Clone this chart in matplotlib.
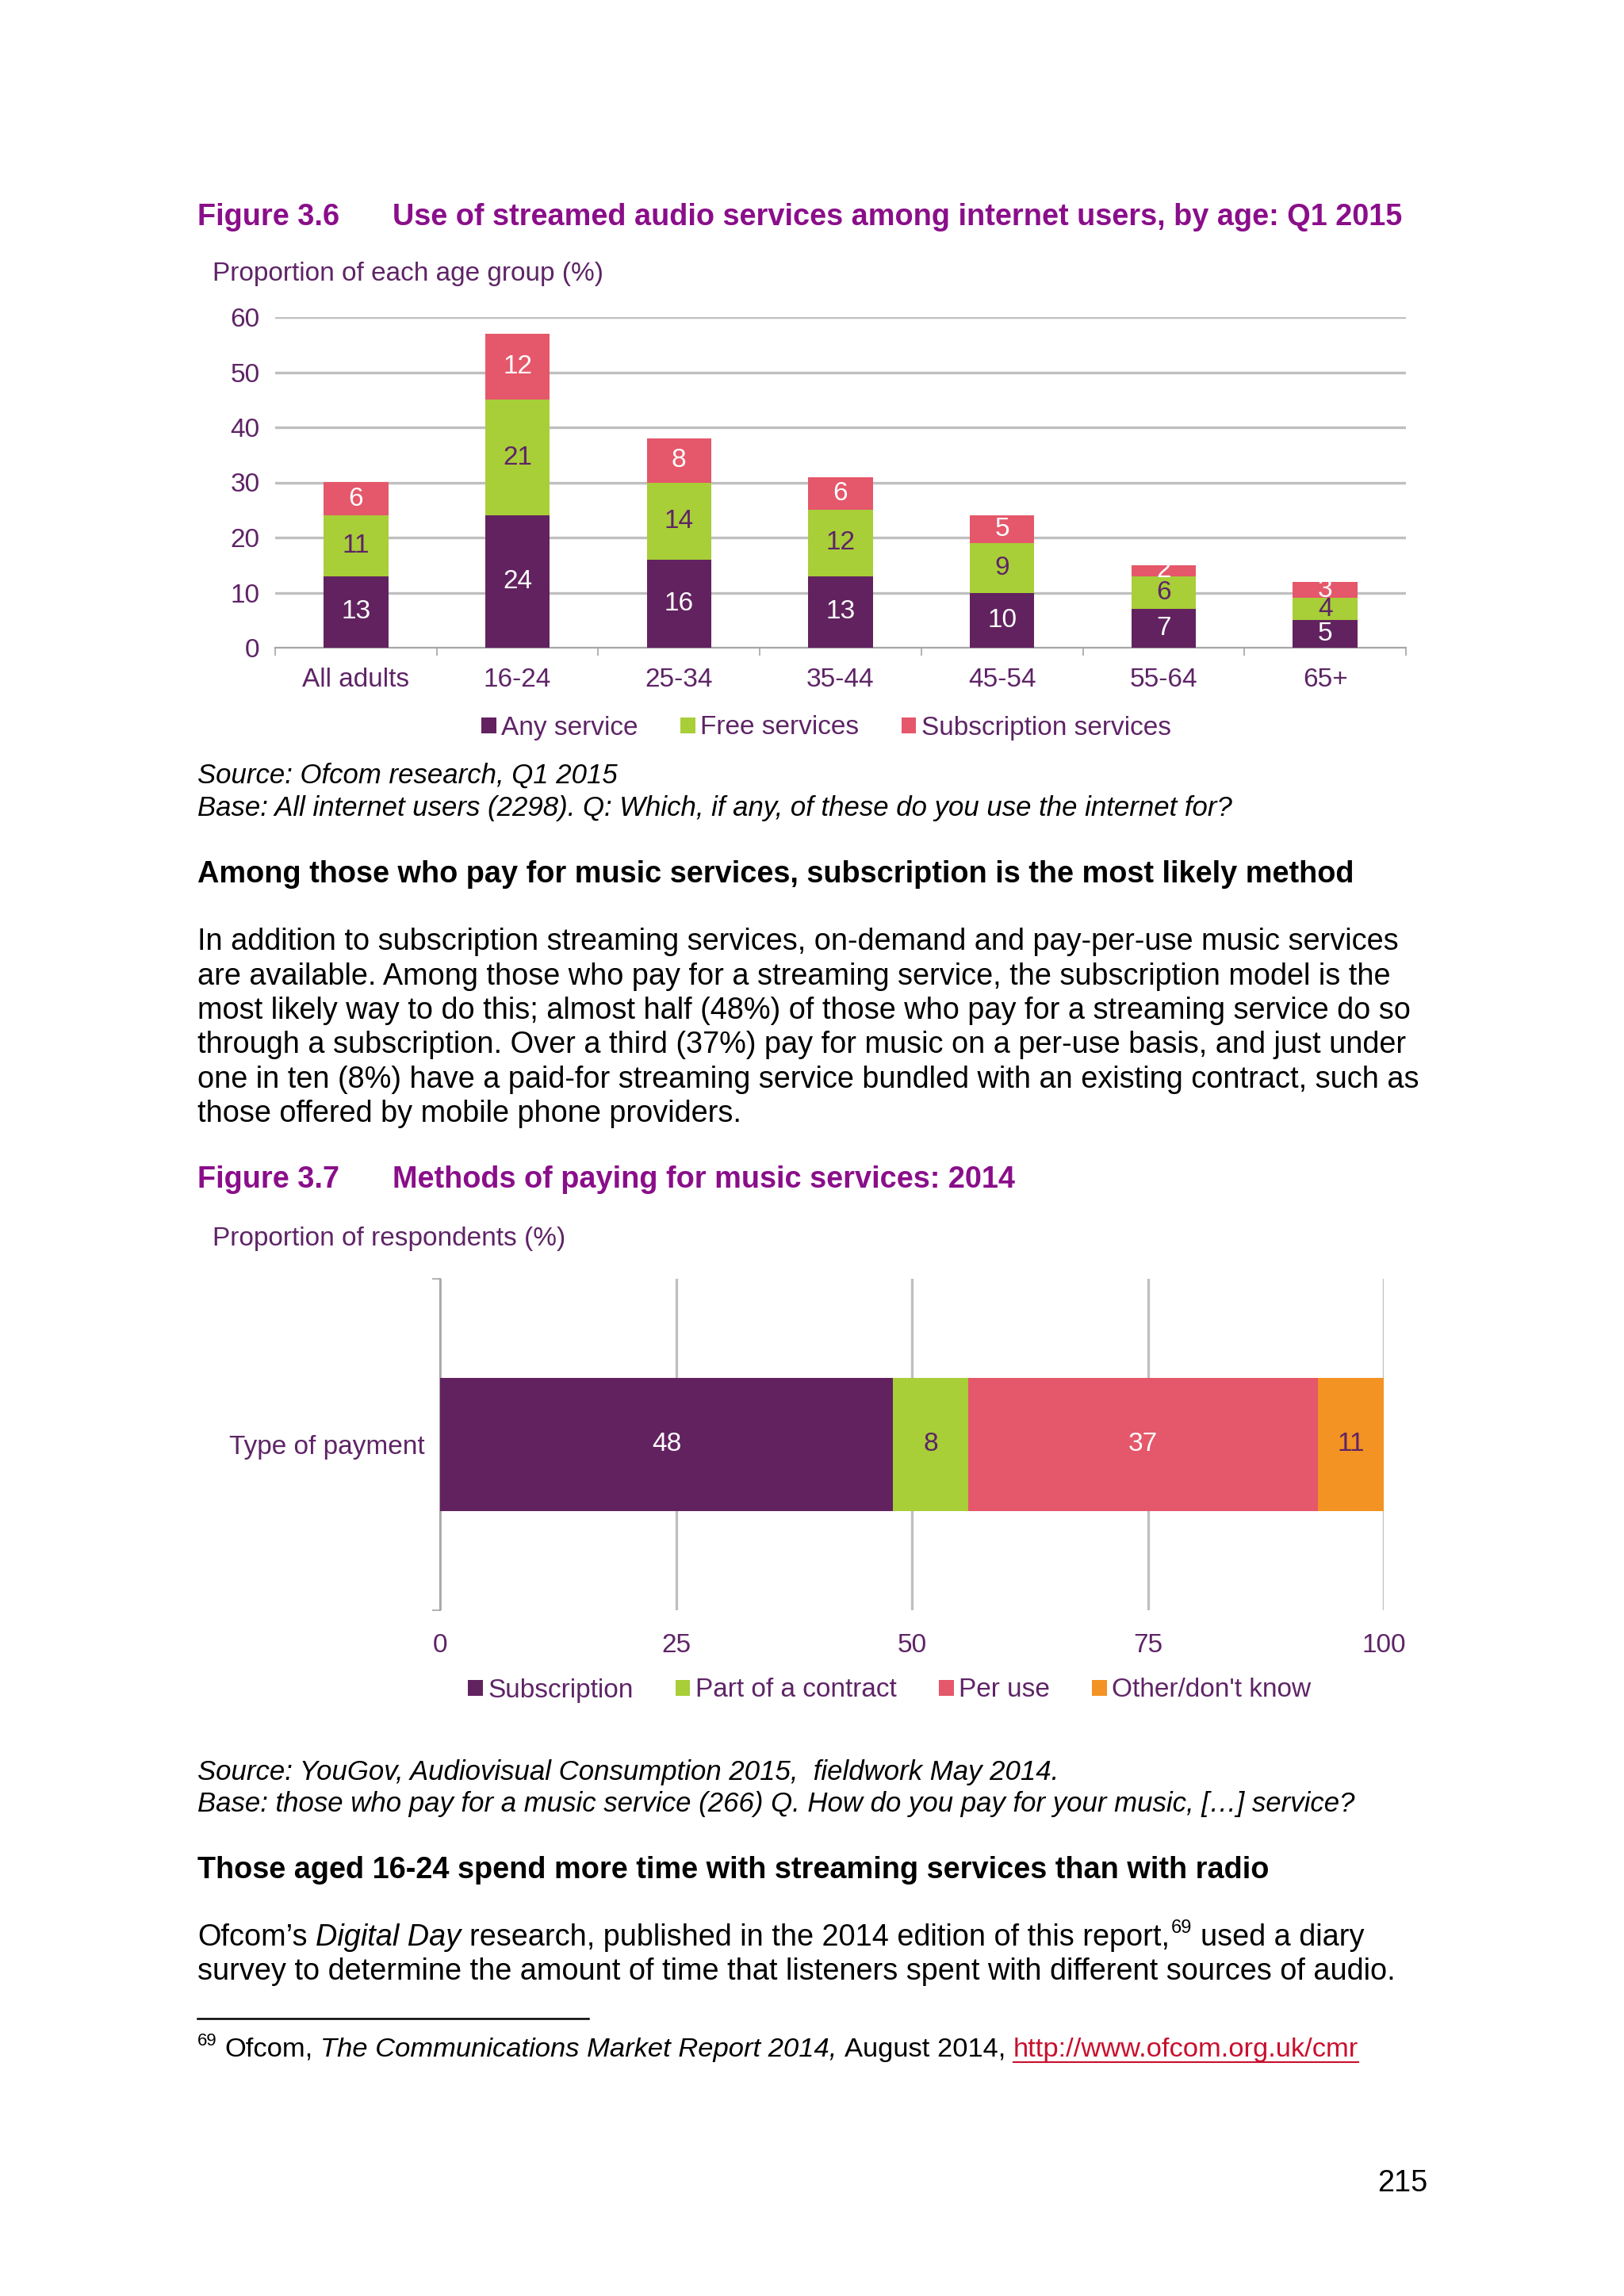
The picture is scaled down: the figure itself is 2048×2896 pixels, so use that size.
import matplotlib
matplotlib.use("Agg")
import matplotlib.pyplot as plt
import numpy as np

plt.rcParams['font.family'] = ['Liberation Sans', 'DejaVu Sans']

# ---- data: figure 3.6 ----
ages = ['All adults', '16-24', '25-34', '35-44', '45-54', '55-64', '65+']
any_service = [13, 24, 16, 13, 10, 7, 5]
free_services = [11, 21, 14, 12, 9, 6, 4]
subscription_services = [6, 12, 8, 6, 5, 2, 3]
series_36 = ['Any service', 'Free services', 'Subscription services']

# ---- data: figure 3.7 ----
pay_methods = ['Subscription', 'Part of a contract', 'Per use', "Other/don't know"]
pay_values = [48, 8, 37, 11]
pay_category = 'Type of payment'

PURPLE = '#62225F'
GREEN = '#A8CE38'
PINK = '#E5576A'
ORANGE = '#F39323'
TITLE_C = '#8A0E8A'
TXT_C = '#5E2466'
GRID_C = '#BFBFBF'

W, H = 2048, 2896
fig = plt.figure(figsize=(W / 100, H / 100), dpi=100)
fig.patch.set_facecolor('white')
rend = fig.canvas.get_renderer()

BODY = 27.3
CHART = 24
DY = 4  # small baseline shift


def fx(x):
    return x / W


def fy(y):
    return 1 - (y + DY) / H


def put(x, y, s, **kw):
    kw.setdefault('fontsize', BODY)
    kw.setdefault('va', 'baseline')
    return fig.text(fx(x), fy(y), s, **kw)


def run(x, y, parts, size=BODY):
    # parts: (text, kwargs); places pieces one after another on a baseline
    for s, kw in parts:
        kw = dict(kw)
        kw.setdefault('fontsize', size)
        dy = kw.pop('dy', 0)
        gap = kw.pop('gap', 0)
        t = put(x, y - dy, s, **kw)
        bb = t.get_window_extent(renderer=rend)
        x += bb.width + gap
    return x


def space(size=BODY, **kw):
    a = fig.text(0, 0, 'x x', fontsize=size, **kw)
    b = fig.text(0, 0, 'xx', fontsize=size, **kw)
    w = a.get_window_extent(renderer=rend).width - b.get_window_extent(renderer=rend).width
    a.remove()
    b.remove()
    return w


SP = space()

# ---------------- Figure 3.6 ----------------
put(249, 280, 'Figure 3.6', weight='bold', color=TITLE_C)
put(495, 280, 'Use of streamed audio services among internet users, by age: Q1 2015',
    weight='bold', color=TITLE_C)
put(268, 350, 'Proportion of each age group (%)', fontsize=CHART, color=TXT_C)

ax1 = fig.add_axes([fx(347), 1 - 817 / H, fx(1773 - 347), (817 - 400) / H])
x = np.arange(len(ages))
b1 = ax1.bar(x, any_service, 0.4, color=PURPLE, zorder=3)
b2 = ax1.bar(x, free_services, 0.4, bottom=any_service, color=GREEN, zorder=3)
bot3 = np.array(any_service) + np.array(free_services)
b3 = ax1.bar(x, subscription_services, 0.4, bottom=bot3, color=PINK, zorder=3)
ax1.bar_label(b1, label_type='center', color='white', fontsize=CHART)
ax1.bar_label(b2, label_type='center', color=TXT_C, fontsize=CHART)
ax1.bar_label(b3, label_type='center', color='white', fontsize=CHART)

ax1.set_xlim(-0.5, len(ages) - 0.5)
ax1.set_ylim(0, 60)
ax1.set_yticks(range(0, 61, 10))
ax1.yaxis.grid(True, color=GRID_C, linewidth=2.4, zorder=0)
ax1.set_axisbelow(True)
ax1.set_xticks(x)
ax1.set_xticklabels(ages)
ax1.set_xticks(np.arange(-0.5, len(ages)), minor=True)
ax1.tick_params(axis='x', which='major', length=0, pad=18, labelsize=CHART, labelcolor=TXT_C)
ax1.tick_params(axis='x', which='minor', length=7, width=1.2, color='#A6A6A6')
ax1.tick_params(axis='y', length=0, pad=14, labelsize=CHART, labelcolor=TXT_C)
for s in ['top', 'right', 'left']:
    ax1.spines[s].set_visible(False)
ax1.spines['bottom'].set_color('#A6A6A6')
ax1.spines['bottom'].set_linewidth(1.5)
ax1.legend([b1, b2, b3], series_36, loc='center', bbox_to_anchor=(fx(1042), 1 - 918 / H),
           bbox_transform=fig.transFigure,
           ncol=3, frameon=False, handlelength=0.55, handleheight=0.55, handletextpad=0.2,
           columnspacing=1.6, fontsize=CHART, labelcolor=TXT_C)

it = dict(style='italic', fontsize=25)
put(249, 984, 'Source: Ofcom research, Q1 2015', **it)
put(249, 1025, 'Base: All internet users (2298). Q: Which, if any, of these do you use the internet for?', **it)

put(249, 1109, 'Among those who pay for music services, subscription is the most likely method',
    weight='bold')

para = [
    'In addition to subscription streaming services, on-demand and pay-per-use music services',
    'are available. Among those who pay for a streaming service, the subscription model is the',
    'most likely way to do this; almost half (48%) of those who pay for a streaming service do so',
    'through a subscription. Over a third (37%) pay for music on a per-use basis, and just under',
    'one in ten (8%) have a paid-for streaming service bundled with an existing contract, such as',
    'those offered by mobile phone providers.',
]
for i, line in enumerate(para):
    put(249, 1194 + i * 43.5, line)

# ---------------- Figure 3.7 ----------------
put(249, 1494, 'Figure 3.7', weight='bold', color=TITLE_C)
put(495, 1494, 'Methods of paying for music services: 2014', weight='bold', color=TITLE_C)
put(268, 1567, 'Proportion of respondents (%)', fontsize=CHART, color=TXT_C)

ax2 = fig.add_axes([fx(555), 1 - 2031 / H, fx(1745 - 555), (2031 - 1613) / H])
left = 0
hbars = []
lab_cols = ['white', TXT_C, 'white', TXT_C]
for v, c, n, lc in zip(pay_values, [PURPLE, GREEN, PINK, ORANGE], pay_methods, lab_cols):
    b = ax2.barh(0, v, 0.4, left=left, color=c, zorder=3, label=n)
    ax2.bar_label(b, label_type='center', color=lc, fontsize=CHART)
    hbars.append(b)
    left += v
ax2.set_xlim(0, 100)
ax2.set_ylim(-0.5, 0.5)
ax2.set_xticks([0, 25, 50, 75, 100])
ax2.xaxis.grid(True, color=GRID_C, linewidth=2.4, zorder=0)
ax2.set_axisbelow(True)
ax2.set_yticks([0])
ax2.set_yticklabels([pay_category])
ax2.set_yticks([-0.5, 0.5], minor=True)
ax2.tick_params(axis='y', which='major', length=0, pad=14, labelsize=CHART, labelcolor=TXT_C)
ax2.tick_params(axis='y', which='minor', length=7, width=1.2, color='#A6A6A6')
ax2.tick_params(axis='x', length=0, pad=21, labelsize=CHART, labelcolor=TXT_C)
for s in ['top', 'right', 'bottom']:
    ax2.spines[s].set_visible(False)
ax2.spines['left'].set_color('#A6A6A6')
ax2.spines['left'].set_linewidth(1.5)
ax2.legend(hbars, pay_methods, loc='center', bbox_to_anchor=(fx(1122), 1 - 2132 / H),
           bbox_transform=fig.transFigure, ncol=4, frameon=False, handlelength=0.55,
           handleheight=0.55, handletextpad=0.2, columnspacing=1.6, fontsize=CHART,
           labelcolor=TXT_C)

put(249, 2241, 'Source: YouGov, Audiovisual Consumption 2015,  fieldwork May 2014.', **it)
put(249, 2281, 'Base: those who pay for a music service (266) Q. How do you pay for your music, [\u2026] service?', **it)

put(249, 2365, 'Those aged 16-24 spend more time with streaming services than with radio', weight='bold')

run(249, 2450, [
    ('Ofcom\u2019s', {'gap': SP}),
    ('Digital Day', {'style': 'italic', 'gap': SP}),
    ('research, published in the 2014 edition of this report,', {'gap': 2}),
    ('69', {'fontsize': 17, 'dy': 16, 'gap': SP}),
    ('used a diary', {}),
])
put(249, 2493, 'survey to determine the amount of time that listeners spent with different sources of audio.')

fig.add_artist(plt.Line2D([fx(249), fx(742)], [1 - 2546 / H] * 2, color='black', linewidth=1.8))
fn = 24.8
spf = space(fn)
xe = run(249, 2590, [
    ('69', {'fontsize': 16, 'dy': 14, 'gap': spf}),
    ('Ofcom,', {'gap': spf}),
    ('The Communications Market Report 2014,', {'style': 'italic', 'gap': spf}),
    ('August 2014,', {'gap': spf}),
], size=fn)
t = put(xe, 2590, 'http://www.ofcom.org.uk/cmr', fontsize=fn, color='#C8102E')
bb = t.get_window_extent(renderer=rend)
fig.add_artist(plt.Line2D([fx(xe), fx(xe + bb.width)], [fy(2597)] * 2, color='#C8102E', linewidth=1.5))

put(1800, 2760, '215', ha='right')

fig.savefig('out.png', dpi=100, facecolor='white')
